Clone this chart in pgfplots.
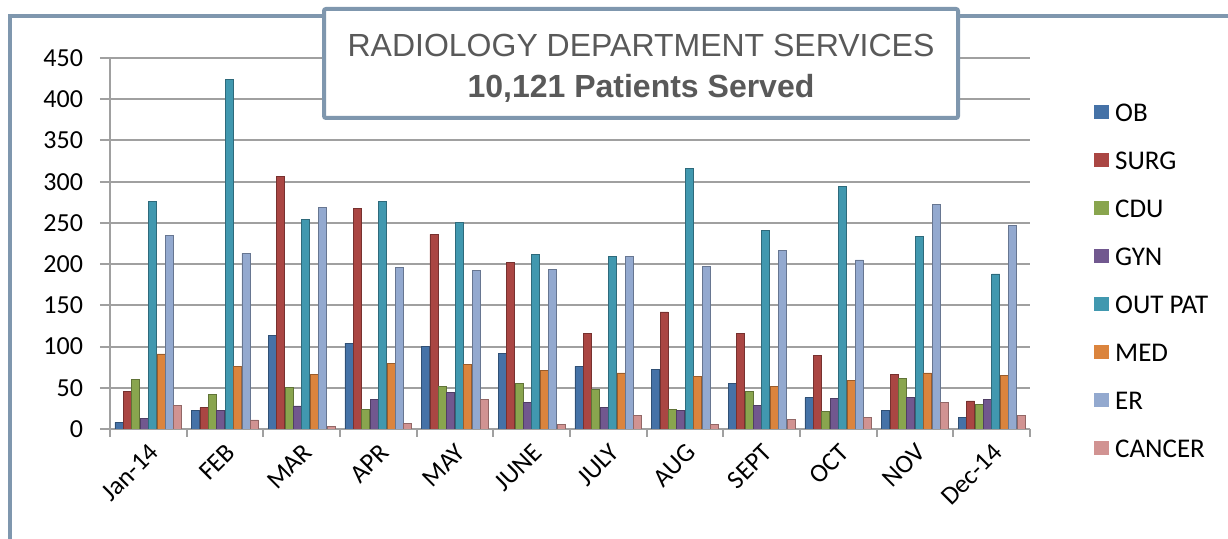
\documentclass[border=0pt]{standalone}
\usepackage{pgfplots}
\usepackage{pgfplotstable}
\pgfplotsset{compat=1.18}
\usepackage{fontspec}
\setmainfont{Carlito}
\newfontfamily\arialfont{Liberation Sans}
\definecolor{obc}{HTML}{4572A7}
\definecolor{surgc}{HTML}{AA4643}
\definecolor{cduc}{HTML}{89A54E}
\definecolor{gync}{HTML}{71588F}
\definecolor{outc}{HTML}{4198AF}
\definecolor{medc}{HTML}{DB843D}
\definecolor{erc}{HTML}{93A9CF}
\definecolor{canc}{HTML}{D19392}
\definecolor{framec}{HTML}{7F97AE}
\definecolor{titlec}{HTML}{595959}
\definecolor{gridc}{HTML}{A0A0A0}
\pgfplotstableread{
x OB SURG CDU GYN OUT MED ER CANCER
0 8 46 60 13 276 91 235 29
1 23 26 42 22 424 76 213 11
2 113 306 50 28 254 66 269 3
3 104 267 24 36 276 80 196 7
4 100 236 52 44 251 78 192 36
5 92 202 55 32 212 71 193 6
6 76 116 48 26 209 68 209 16
7 72 142 24 22 316 64 197 6
8 55 116 45 29 241 52 217 12
9 38 89 21 37 294 59 205 14
10 22 66 61 38 234 68 272 32
11 14 34 30 36 188 65 247 16
}\data
\begin{document}
\begin{tikzpicture}
\useasboundingbox (0,0) rectangle (614pt,269.5pt);
\draw[framec, line width=2pt] (5pt,-2pt) -- (5pt,261.5pt) -- (616pt,261.5pt);
\begin{axis}[
  at={(55pt,55pt)}, anchor=south west,
  scale only axis, width=460pt, height=185.5pt,
  ymin=0, ymax=450, xmin=-0.5, xmax=11.5,
  ybar=0.2pt, bar width=4pt,
  ytick={0,50,...,450},
  ymajorgrids, grid style={gridc, line width=1pt},
  axis x line*=bottom, axis y line*=left,
  axis line style={gridc, line width=1pt, -},
  tick align=outside,
  xtick={0,...,11},
  xticklabels={Jan-14,FEB,MAR,APR,MAY,JUNE,JULY,AUG,SEPT,OCT,NOV,Dec-14},
  major x tick style={draw=none},
  minor xtick={-0.5,0.5,...,11.5},
  minor tick length=4pt,
  minor x tick style={gridc, line width=1pt},
  major y tick style={gridc, line width=1pt},
  major tick length=5pt,
  /pgf/number format/assume math mode=true,
  ticklabel style={font=\fontsize{13}{15}\selectfont, text=black},
  yticklabel style={xshift=-5pt},
  xticklabel style={rotate=45, anchor=north east, inner sep=1pt},
  legend style={at={(1.063,0.90)}, anchor=north west, draw=none, fill=none,
    font=\fontsize{13.5}{15}\selectfont, row sep=11.5pt, column sep=1.5pt,
    nodes={inner sep=1.5pt, text height=9.5pt, text depth=0pt}},
  legend cell align=left,
  legend image code/.code={\draw[#1, draw=none] (0pt,-3.7pt) rectangle (7.4pt,3.7pt);},
]
\addplot[fill=obc, draw=obc!70!black, line width=0.4pt] table[x=x,y=OB]{\data};
\addplot[fill=surgc, draw=surgc!70!black, line width=0.4pt] table[x=x,y=SURG]{\data};
\addplot[fill=cduc, draw=cduc!70!black, line width=0.4pt] table[x=x,y=CDU]{\data};
\addplot[fill=gync, draw=gync!70!black, line width=0.4pt] table[x=x,y=GYN]{\data};
\addplot[fill=outc, draw=outc!70!black, line width=0.4pt] table[x=x,y=OUT]{\data};
\addplot[fill=medc, draw=medc!70!black, line width=0.4pt] table[x=x,y=MED]{\data};
\addplot[fill=erc, draw=erc!70!black, line width=0.4pt] table[x=x,y=ER]{\data};
\addplot[fill=canc, draw=canc!70!black, line width=0.4pt] table[x=x,y=CANCER]{\data};
\legend{OB,SURG,CDU,GYN,OUT PAT,MED,ER,CANCER}
\end{axis}
\draw[framec, line width=2pt, fill=white, rounded corners=1pt] (162pt,210.5pt) rectangle (479pt,265pt);
\node[font=\arialfont\fontsize{16}{18}\selectfont, text=titlec] at (320.5pt,247pt) {RADIOLOGY DEPARTMENT SERVICES};
\node[font=\arialfont\bfseries\fontsize{16}{18}\selectfont, text=titlec] at (320.5pt,225.5pt) {10,121 Patients Served};
\end{tikzpicture}
\end{document}
